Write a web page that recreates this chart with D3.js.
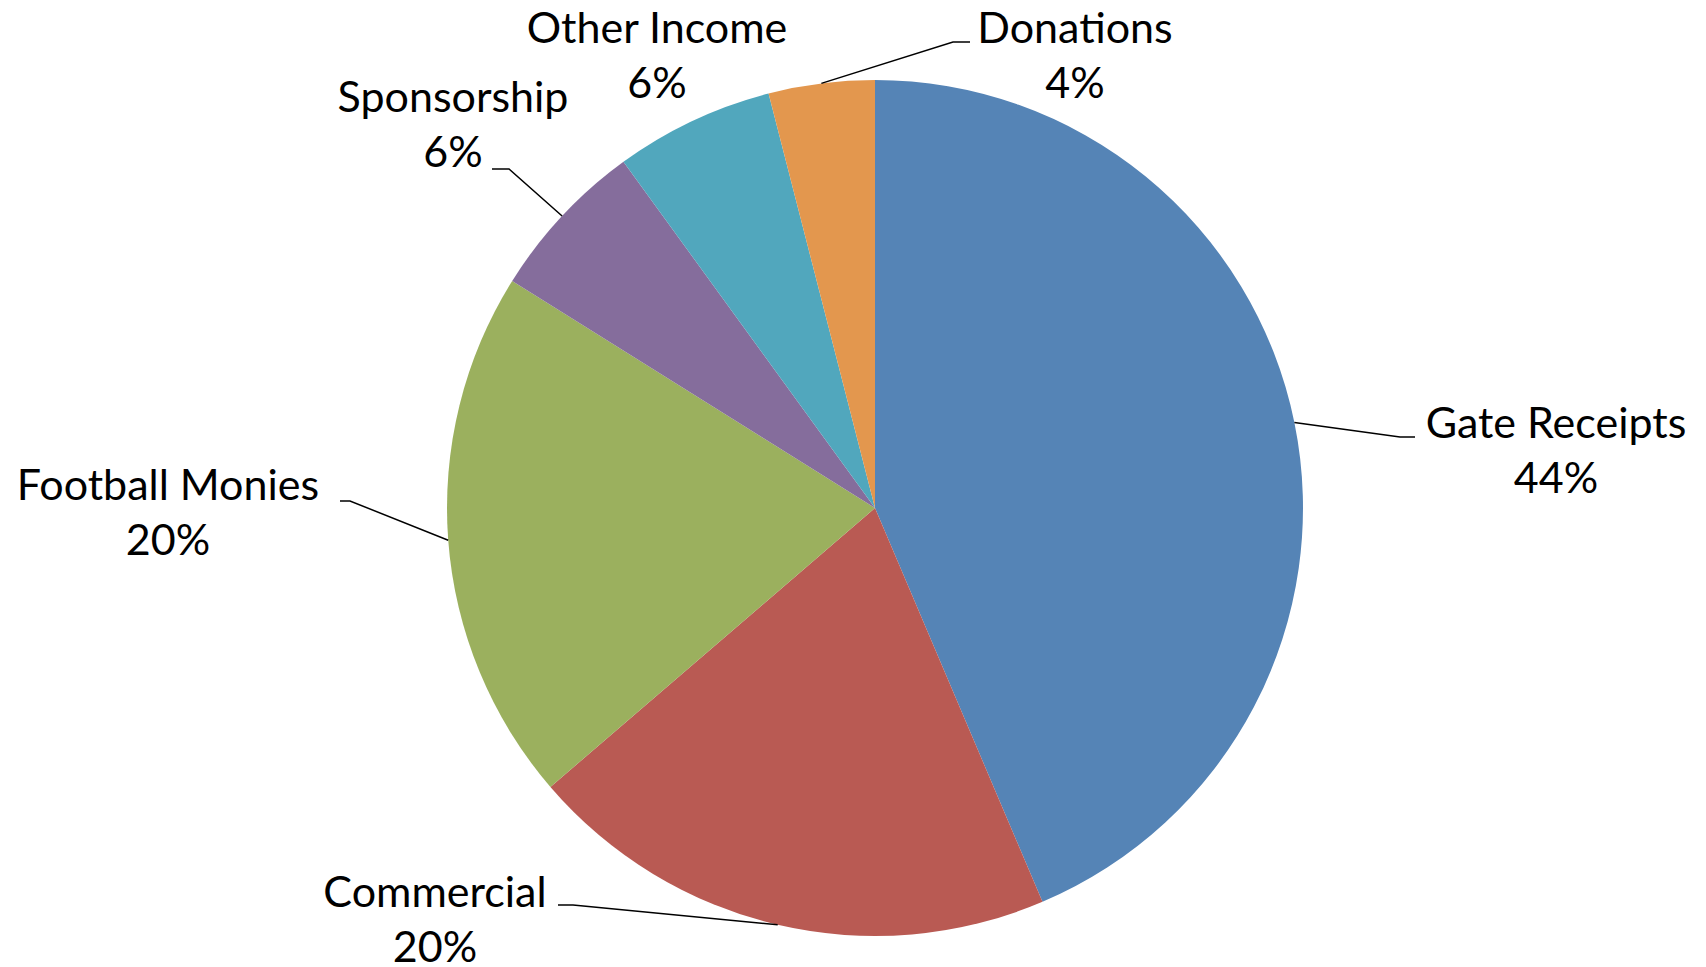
<!DOCTYPE html>
<html>
<head>
<meta charset="utf-8">
<script src="https://cdn.jsdelivr.net/npm/d3@7"></script>
<style>
  html, body { margin: 0; padding: 0; background: #fff; }
  svg { display: block; }
</style>
</head>
<body>
<svg id="chart"></svg>
<script>
// Income split by source (share of total, %)
const categories = ['Gate Receipts', 'Commercial', 'Football Monies', 'Sponsorship', 'Other Income', 'Donations'];
const values = [43.6, 20.1, 20.2, 6.1, 6.0, 4.0];
const colors = ['#5584B6', '#B95A53', '#9BB05E', '#856D9C', '#51A7BD', '#E3974E'];

// Label placement (Excel "best fit" style): text centre x, first baseline y,
// and leader elbow (ex, ey) + horizontal end hx. null = no leader line.
const labelLayout = [
  { x: 1556, y: 438, leader: { ex: 1400, ey: 437, hx: 1415 } },
  { x: 435, y: 907, leader: { ex: 573, ey: 905, hx: 558 } },
  { x: 168, y: 500, leader: { ex: 350, ey: 501, hx: 340 } },
  { x: 453, y: 112, leader: { ex: 509, ey: 169, hx: 492 } },
  { x: 657, y: 43, leader: null },
  { x: 1075, y: 43, leader: { ex: 953, ey: 42, hx: 970 } },
];

const width = 1706, height = 967;
const cx = 875, cy = 508, radius = 428;
const lineGap = 55;

const svg = d3.select('#chart').attr('width', width).attr('height', height);

const data = categories.map((c, i) => ({ name: c, value: values[i], color: colors[i] }));
const total = d3.sum(values);

const pie = d3.pie().value(d => d.value).sort(null);
const arcs = pie(data);
const arc = d3.arc().innerRadius(0).outerRadius(radius);
const edgeArc = d3.arc().innerRadius(radius).outerRadius(radius);

const g = svg.append('g').attr('transform', `translate(${cx},${cy})`);

g.selectAll('path.slice')
  .data(arcs)
  .join('path')
  .attr('class', 'slice')
  .attr('d', arc)
  .attr('fill', d => d.data.color);

// Leader lines: from the slice's mid-arc point to elbow, then short horizontal
arcs.forEach((a, i) => {
  const lay = labelLayout[i];
  if (!lay.leader) return;
  const [px, py] = edgeArc.centroid(a);
  const L = lay.leader;
  svg.append('polyline')
    .attr('points', `${cx + px},${cy + py} ${L.ex},${L.ey} ${L.hx},${L.ey}`)
    .attr('fill', 'none')
    .attr('stroke', '#000')
    .attr('stroke-width', 1.5);
});

// Labels
const labels = svg.append('g')
  .attr('font-family', 'Lato, "Open Sans", sans-serif')
  .attr('font-size', '43px')
  .attr('fill', '#000')
  .attr('text-anchor', 'middle');

arcs.forEach((a, i) => {
  const lay = labelLayout[i];
  const pct = Math.round(a.data.value / total * 100) + '%';
  const t = labels.append('text').attr('x', lay.x).attr('y', lay.y);
  t.append('tspan').attr('x', lay.x).attr('y', lay.y).text(a.data.name);
  t.append('tspan').attr('x', lay.x).attr('y', lay.y + lineGap).text(pct);
});
</script>
</body>
</html>
